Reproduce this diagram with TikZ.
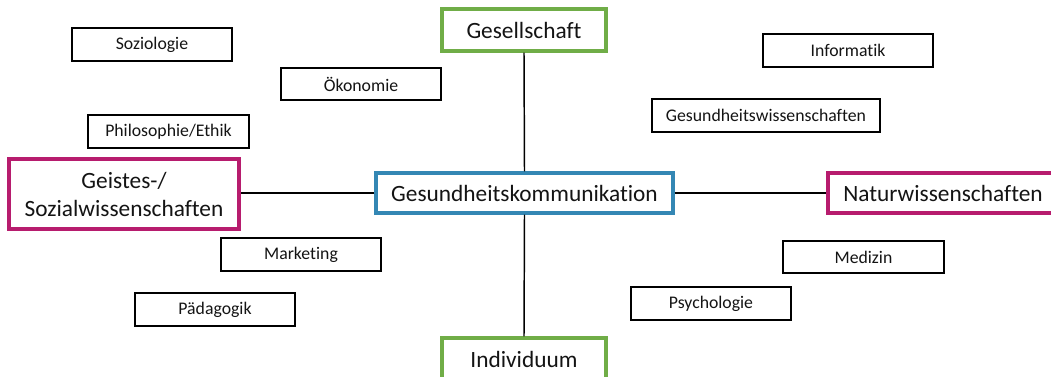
\documentclass[tikz,border=0pt]{standalone}
\usepackage{fontspec}
\setmainfont[Ligatures=NoCommon]{Carlito}
\definecolor{magentabox}{RGB}{183,28,110}
\definecolor{greenbox}{RGB}{112,173,71}
\definecolor{bluebox}{RGB}{52,135,180}
\definecolor{txt}{RGB}{20,20,20}
\begin{document}
\begin{tikzpicture}[x=0.75pt,y=-0.75pt,
  small/.style={draw=black,line width=1.1pt,fill=white,inner sep=0pt,text=txt,
    font=\fontsize{13.3}{16}\selectfont},
  big/.style={line width=2.3pt,fill=white,inner sep=0pt,text=txt,align=center,
    font=\fontsize{17.5}{21}\selectfont},
  conn/.style={draw=black,line width=1.1pt}]
\clip (0,0) rectangle (1051,376);
\fill[white] (0,0) rectangle (1051,376);
% small boxes
\node[small,minimum width=160*0.75pt,minimum height=33*0.75pt] (soz) at (152,44.5) {Soziologie};
\node[small,minimum width=160*0.75pt,minimum height=32*0.75pt] (oek) at (361,84) {Ökonomie};
\node[small,minimum width=161*0.75pt,minimum height=33*0.75pt] (phil) at (168.5,131.5) {Philosophie/Ethik};
\node[small,minimum width=160*0.75pt,minimum height=33*0.75pt] (mark) at (301,254.5) {Marketing};
\node[small,minimum width=160*0.75pt,minimum height=33*0.75pt] (paed) at (215,309.5) {Pädagogik};
\node[small,minimum width=170*0.75pt,minimum height=33*0.75pt] (info) at (848,50.5) {Informatik};
\node[small,minimum width=228*0.75pt,minimum height=33*0.75pt] (gw) at (766,115.5) {Gesundheitswissenschaften};
\node[small,minimum width=161*0.75pt,minimum height=32*0.75pt] (med) at (863.5,257) {Medizin};
\node[small,minimum width=160*0.75pt,minimum height=33*0.75pt] (psy) at (711,303.5) {Psychologie};
% big boxes
\node[big,draw=bluebox,minimum width=297*0.75pt,minimum height=40*0.75pt] (gk) at (524.5,193) {Gesundheitskommunikation};
\node[big,draw=greenbox,minimum width=164*0.75pt,minimum height=42*0.75pt] (ges) at (524,30) {Gesellschaft};
\node[big,draw=greenbox,minimum width=164*0.75pt,minimum height=42*0.75pt] (ind) at (524,359) {Individuum};
\node[big,draw=magentabox,minimum width=230*0.75pt,minimum height=70*0.75pt] (geist) at (124,194) {Geistes-/\\Sozialwissenschaften};
\node[big,draw=magentabox,minimum width=230*0.75pt,minimum height=40*0.75pt] (nat) at (943,193) {Naturwissenschaften};
% connectors
\draw[conn] (ges.south) -- (gk.north);
\draw[conn] (gk.south) -- (ind.north);
\draw[conn] (gk.west) -- (gk.west -| geist.east);
\draw[conn] (gk.east) -- (gk.east -| nat.west);
\end{tikzpicture}
\end{document}
